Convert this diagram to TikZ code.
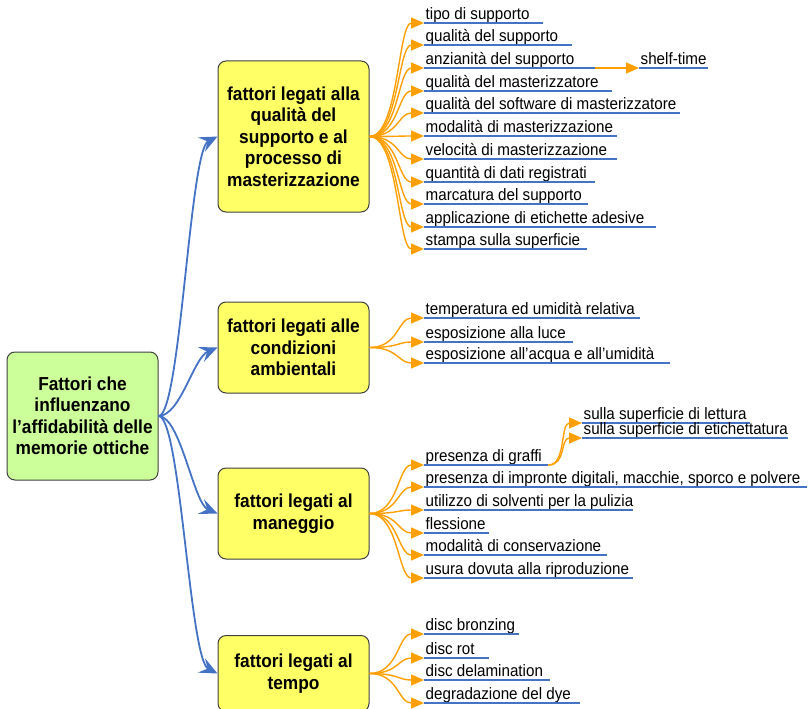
\documentclass[tikz,border=0pt]{standalone}
\usepackage{fontspec}
\setmainfont[FakeStretch=0.92]{Liberation Sans}
\usetikzlibrary{arrows.meta}
\definecolor{bblue}{HTML}{4472C4}
\definecolor{oorange}{HTML}{FF9F00}
\definecolor{yfill}{HTML}{FFFF66}
\definecolor{gfill}{HTML}{CCFF99}
\definecolor{bord}{HTML}{404040}
\tikzset{
  box/.style={draw=bord, line width=1pt, rounded corners=8pt, fill=yfill, minimum width=151pt, align=center, inner sep=0pt, font=\fontsize{18.8}{21.5}\selectfont\bfseries},
  rootbox/.style={box, fill=gfill},
  leaf/.style={anchor=south west, inner sep=0pt, text height=12pt, text depth=3.5pt, font=\fontsize{16.5}{18}\selectfont},
  uline/.style={draw=bblue, line width=1.5pt},
  bconn/.style={draw=bblue, line width=1.8pt, -{Stealth[length=18pt, width=16pt, inset=7pt]}},
  oconn/.style={draw=oorange, line width=1.4pt, -{Triangle[length=13pt, width=11pt]}},
  oline/.style={draw=oorange, line width=1.4pt}
}
\newcommand\leafnode[5]{%
  \node[leaf] (#1) at (#2,#3) {\makebox[\dimexpr #4pt-#2pt\relax][l]{\hspace{1.5pt}#5}};
  \draw[uline] (#1.south west) -- (#1.south east);}
\begin{document}
\begin{tikzpicture}[x=1pt, y=-1pt]
\useasboundingbox (0,0) rectangle (808,709);
\begin{scope}
\clip (0,0) rectangle (808,709);
% main nodes
\node[rootbox, minimum height=128pt] (root) at (82.5,416) {Fattori che\\influenzano\\l’affidabilità delle\\memorie ottiche};
\node[box, minimum height=151pt] (b1) at (293.5,136.5) {fattori legati alla\\qualità del\\supporto e al\\processo di\\masterizzazione};
\node[box, minimum height=91pt] (b2) at (293.5,347.5) {fattori legati alle\\condizioni\\ambientali};
\node[box, minimum height=91pt] (b3) at (293.5,513.5) {fattori legati al\\maneggio};
\node[box, minimum height=76pt, anchor=north] (b4) at (293.5,635) {fattori legati al\\tempo};
\end{scope}
% blue connectors
\draw[bconn] (root.east) .. controls +(22,0) and +(-28,14) .. (b1.west);
\draw[bconn] (root.east) .. controls +(22,0) and +(-24,10) .. (b2.west);
\draw[bconn] (root.east) .. controls +(22,0) and +(-24,-10) .. (b3.west);
\draw[bconn] (root.east) .. controls +(22,0) and +(-28,-14) .. (b4.west);
% leaves box 1
\leafnode{a1}{424}{23}{543}{tipo di supporto}
\leafnode{a2}{424}{45}{572}{qualità del supporto}
\leafnode{a3}{424}{68}{595}{anzianità del supporto}
\leafnode{a4}{424}{91}{612}{qualità del masterizzatore}
\leafnode{a5}{424}{113}{680}{qualità del software di masterizzatore}
\leafnode{a6}{424}{136}{617}{modalità di masterizzazione}
\leafnode{a7}{424}{159}{617}{velocità di masterizzazione}
\leafnode{a8}{424}{182}{595}{quantità di dati registrati}
\leafnode{a9}{424}{204}{588}{marcatura del supporto}
\leafnode{a10}{424}{227}{656}{applicazione di etichette adesive}
\leafnode{a11}{424}{249}{587}{stampa sulla superficie}
\leafnode{a12}{639}{68}{708}{shelf-time}
\foreach \n in {a1,a2,a3,a4,a5,a6,a7,a8,a9,a10,a11}
  \draw[oconn] (b1.east) .. controls +(29,0) and +(-26,0) .. (\n.south west);
\draw[oconn] (a3.south east) -- (a12.south west);
% leaves box 2
\leafnode{c1}{424}{318}{640}{temperatura ed umidità relativa}
\leafnode{c2}{424}{342}{573}{esposizione alla luce}
\leafnode{c3}{424}{363}{670}{esposizione all’acqua e all’umidità}
\foreach \n in {c1,c2,c3}
  \draw[oconn] (b2.east) .. controls +(29,0) and +(-26,0) .. (\n.south west);
% leaves box 3
\leafnode{d1}{424}{465}{548}{presenza di graffi}
\leafnode{d2}{424}{487}{807}{presenza di impronte digitali, macchie, sporco e polvere}
\leafnode{d3}{424}{510}{633}{utilizzo di solventi per la pulizia}
\leafnode{d4}{424}{533}{489}{flessione}
\leafnode{d5}{424}{555}{607}{modalità di conservazione}
\leafnode{d6}{424}{578}{633}{usura dovuta alla riproduzione}
\leafnode{e1}{582}{423}{750}{sulla superficie di lettura}
\leafnode{e2}{582}{438}{788}{sulla superficie di etichettatura}
\foreach \n in {d1,d2,d3,d4,d5,d6}
  \draw[oconn] (b3.east) .. controls +(29,0) and +(-26,0) .. (\n.south west);
\foreach \n in {e1,e2}
  \draw[oconn] (d1.south east) .. controls +(18,0) and +(-22,0) .. (\n.south west);
% leaves box 4
\leafnode{f1}{424}{634}{519}{disc bronzing}
\leafnode{f2}{424}{658}{489}{disc rot}
\leafnode{f3}{424}{680}{550}{disc delamination}
\leafnode{f4}{424}{703}{580}{degradazione del dye}
\foreach \n in {f1,f2,f3,f4}
  \draw[oconn] (b4.east) .. controls +(29,0) and +(-26,0) .. (\n.south west);
\end{tikzpicture}
\end{document}
